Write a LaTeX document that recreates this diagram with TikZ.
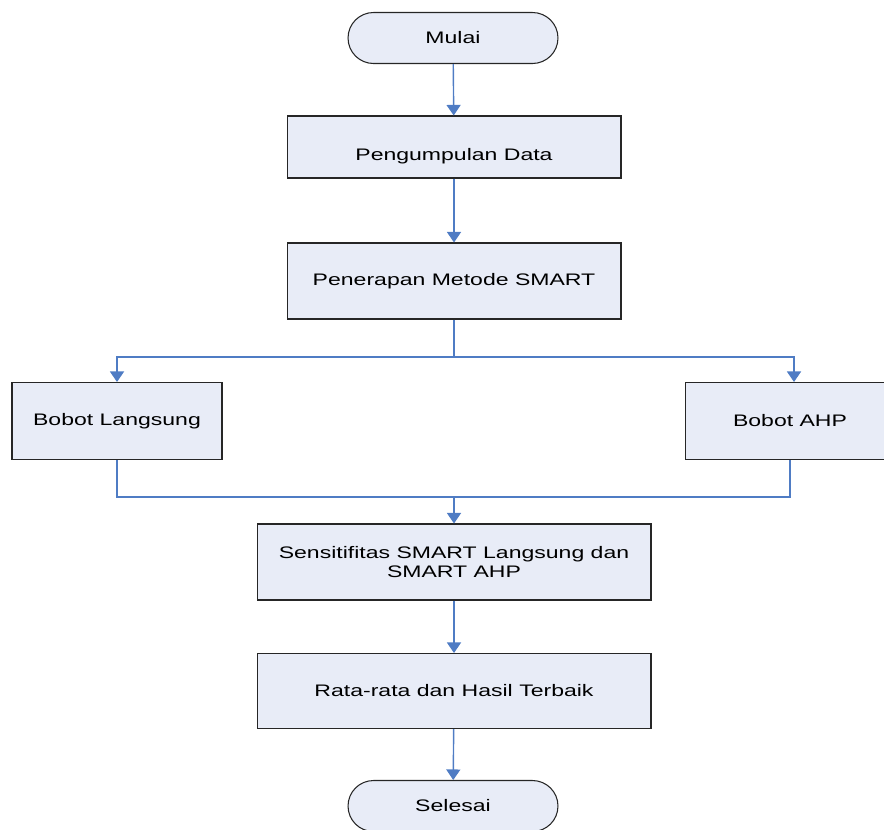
\documentclass[tikz,border=0pt]{standalone}
\usepackage{fontspec}
\setmainfont[FakeStretch=1.38]{Liberation Sans}
\usepackage{tikz}
\usetikzlibrary{arrows.meta,shapes.misc}
\definecolor{boxfill}{HTML}{E8ECF7}
\definecolor{linkblue}{HTML}{4F7CC4}
\tikzset{
  flowbox/.style={draw=black!85, line width=0.6pt, fill=boxfill, align=center,
    font=\fontsize{9.5}{11}\selectfont, inner sep=0pt},
  endbox/.style={flowbox, rounded rectangle, minimum width=4.2cm, minimum height=1.02cm},
  link/.style={draw=linkblue, line width=0.8pt},
  linkarrow/.style={link, -{Triangle[width=8pt,length=6pt]}}
}

\begin{document}
\begin{tikzpicture}[x=0.02cm, y=-0.02cm]
   \clip (0,0) rectangle (884,829);
   \node [endbox] (Start) at (453, 38) {Mulai};
   \node [flowbox, minimum width=6.68cm, minimum height=1.24cm, text height=0.52cm, text depth=0cm] (Data) at (454, 147) {Pengumpulan Data};
   \node [flowbox, minimum width=6.68cm, minimum height=1.52cm] (Smart) at (454, 281) {Penerapan Metode SMART};
   \node [flowbox, minimum width=4.2cm, minimum height=1.54cm] (Lang) at (117, 421) {Bobot Langsung};
   \node [flowbox, minimum width=4.2cm, minimum height=1.54cm] (Ahp) at (790, 421) {Bobot AHP};
   \node [flowbox, minimum width=7.88cm, minimum height=1.52cm] (Sens) at (454, 562) {Sensitifitas SMART Langsung dan\\SMART AHP};
   \node [flowbox, minimum width=7.88cm, minimum height=1.5cm] (Hasil) at (454, 691) {Rata-rata dan Hasil Terbaik};
   \node [endbox] (End) at (453, 806) {Selesai};
   \coordinate (Split) at (454, 357);
   \coordinate (Merge) at (454, 497);
   \draw [linkarrow] (Start) -- (Data);
   \draw [linkarrow] (Data) -- (Smart);
   \draw [link] (Smart) -- (Split);
   \draw [linkarrow] (Split) -| (Lang);
   \draw [linkarrow] (Split) -| ([xshift=4*0.02cm]Ahp.north);
   \draw [link] (Lang) |- (Merge);
   \draw [link] (Ahp) |- (Merge);
   \draw [linkarrow] (Merge) -- (Sens);
   \draw [linkarrow] (Sens) -- (Hasil);
   \draw [linkarrow] (Hasil) -- (End);
\end{tikzpicture}
\end{document}
